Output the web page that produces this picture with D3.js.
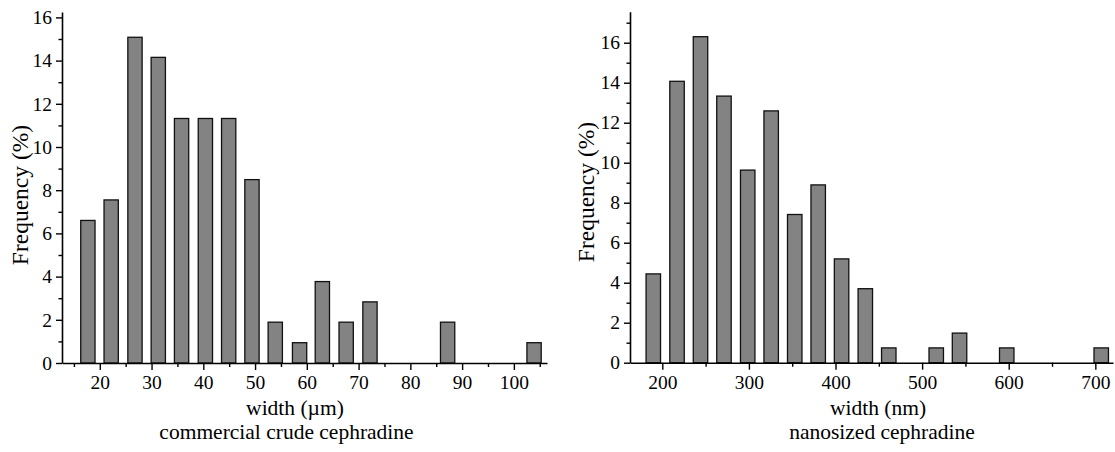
<!DOCTYPE html>
<html><head><meta charset="utf-8">
<script src="https://cdn.jsdelivr.net/npm/d3@7"></script>
<style>
html,body{margin:0;padding:0;background:#fff;}
svg text{font-family:"Liberation Serif","Times New Roman",serif !important;fill:#000;}
</style></head>
<body>
<svg id="chart" width="1115" height="452" font-family="Liberation Serif"></svg>
<script>
// ---- data ----
const leftCenters = [17.7, 22.2, 26.8, 31.3, 35.8, 40.4, 44.9, 49.4, 53.9, 58.6, 63.0, 67.6, 72.2, 87.2, 103.9];
const leftFreq    = [6.60, 7.55, 15.08, 14.15, 11.32, 11.32, 11.32, 8.49, 1.89, 0.94, 3.77, 1.89, 2.83, 1.89, 0.94];
const leftXMajor  = [20, 30, 40, 50, 60, 70, 80, 90, 100];
const leftXMinor  = [15, 25, 35, 45, 55, 65, 75, 85, 95, 105];
const leftYMajor  = [0, 2, 4, 6, 8, 10, 12, 14, 16];
const leftYMinor  = [1, 3, 5, 7, 9, 11, 13, 15];

const rightCenters = [189.6, 217.0, 244.1, 271.2, 298.6, 325.7, 352.9, 380.0, 407.0, 434.4, 461.5, 516.3, 543.2, 597.7, 706.8];
const rightFreq    = [4.44, 14.07, 16.30, 13.33, 9.63, 12.59, 7.41, 8.89, 5.19, 3.70, 0.74, 0.74, 1.48, 0.74, 0.74];
const rightXMajor  = [200, 300, 400, 500, 600, 700];
const rightXMinor  = [250, 350, 450, 550, 650];
const rightYMajor  = [0, 2, 4, 6, 8, 10, 12, 14, 16];
const rightYMinor  = [1, 3, 5, 7, 9, 11, 13, 15, 17];

const SERIF = '"Liberation Serif","Times New Roman",serif';
const svg = d3.select("#chart");

function panel(o) {
  const x = d3.scaleLinear().domain(o.xDomain).range(o.xRange);
  const y = d3.scaleLinear().domain(o.yDomain).range(o.yRange);
  const g = svg.append("g");

  // bars
  g.selectAll("rect.bar").data(o.centers).enter().append("rect")
    .attr("class", "bar")
    .attr("x", (c) => x(c - o.barW / 2))
    .attr("width", (c) => x(c + o.barW / 2) - x(c - o.barW / 2))
    .attr("y", (c, i) => y(o.freq[i]))
    .attr("height", (c, i) => y(0) - y(o.freq[i]))
    .attr("fill", "#838383")
    .attr("stroke", "#111")
    .attr("stroke-width", 1.3);

  const y0 = o.yRange[0];
  const x0 = o.xRange[0];

  // x axis
  g.append("g").attr("transform", `translate(0,${y0})`)
    .call(d3.axisBottom(x).tickValues(o.xMajor).tickSize(7).tickSizeOuter(0).tickPadding(5));
  g.append("g").attr("transform", `translate(0,${y0})`)
    .call(d3.axisBottom(x).tickValues(o.xMinor).tickSize(4).tickSizeOuter(0).tickFormat(""))
    .select(".domain").remove();
  // y axis
  g.append("g").attr("transform", `translate(${x0},0)`)
    .call(d3.axisLeft(y).tickValues(o.yMajor).tickSize(6).tickSizeOuter(0).tickPadding(4));
  g.append("g").attr("transform", `translate(${x0},0)`)
    .call(d3.axisLeft(y).tickValues(o.yMinor).tickSize(3.5).tickSizeOuter(0).tickFormat(""))
    .select(".domain").remove();

  g.selectAll("g").attr("font-family", SERIF);
  g.selectAll(".domain").attr("stroke", "#000").attr("stroke-width", 1.6);
  g.selectAll(".tick line").attr("stroke", "#000").attr("stroke-width", 1.4);
  g.selectAll(".tick text").style("font-family", SERIF).style("font-size", "19.5px");

  // y label
  g.append("text")
    .attr("transform", `translate(${o.yLabelX},${o.yLabelY}) rotate(-90)`)
    .attr("text-anchor", "middle")
    .style("font-family", SERIF).style("font-size", "23.5px")
    .text("Frequency (%)");
  // x label
  g.append("text").attr("x", o.xLabelX).attr("y", 415)
    .attr("text-anchor", "middle")
    .style("font-family", SERIF).style("font-size", "21.5px").text(o.xLabel);
  // caption
  g.append("text").attr("x", o.capX).attr("y", 439)
    .attr("text-anchor", "middle")
    .style("font-family", SERIF).style("font-size", "21.5px").text(o.caption);
}

panel({
  centers: leftCenters, freq: leftFreq, barW: 2.76,
  xDomain: [12.7, 106.4], xRange: [62, 547],
  yDomain: [0, 16.25], yRange: [363, 12],
  xMajor: leftXMajor, xMinor: leftXMinor, yMajor: leftYMajor, yMinor: leftYMinor,
  yLabelX: 28, yLabelY: 195,
  xLabel: "width (\u00B5m)", xLabelX: 295,
  caption: "commercial crude cephradine", capX: 286.5
});

panel({
  centers: rightCenters, freq: rightFreq, barW: 16.7,
  xDomain: [162.7, 720.4], xRange: [630, 1113],
  yDomain: [0, 17.55], yRange: [362.7, 11.7],
  xMajor: rightXMajor, xMinor: rightXMinor, yMajor: rightYMajor, yMinor: rightYMinor,
  yLabelX: 594, yLabelY: 192,
  xLabel: "width (nm)", xLabelX: 878,
  caption: "nanosized cephradine", capX: 882
});
</script>
</body></html>
